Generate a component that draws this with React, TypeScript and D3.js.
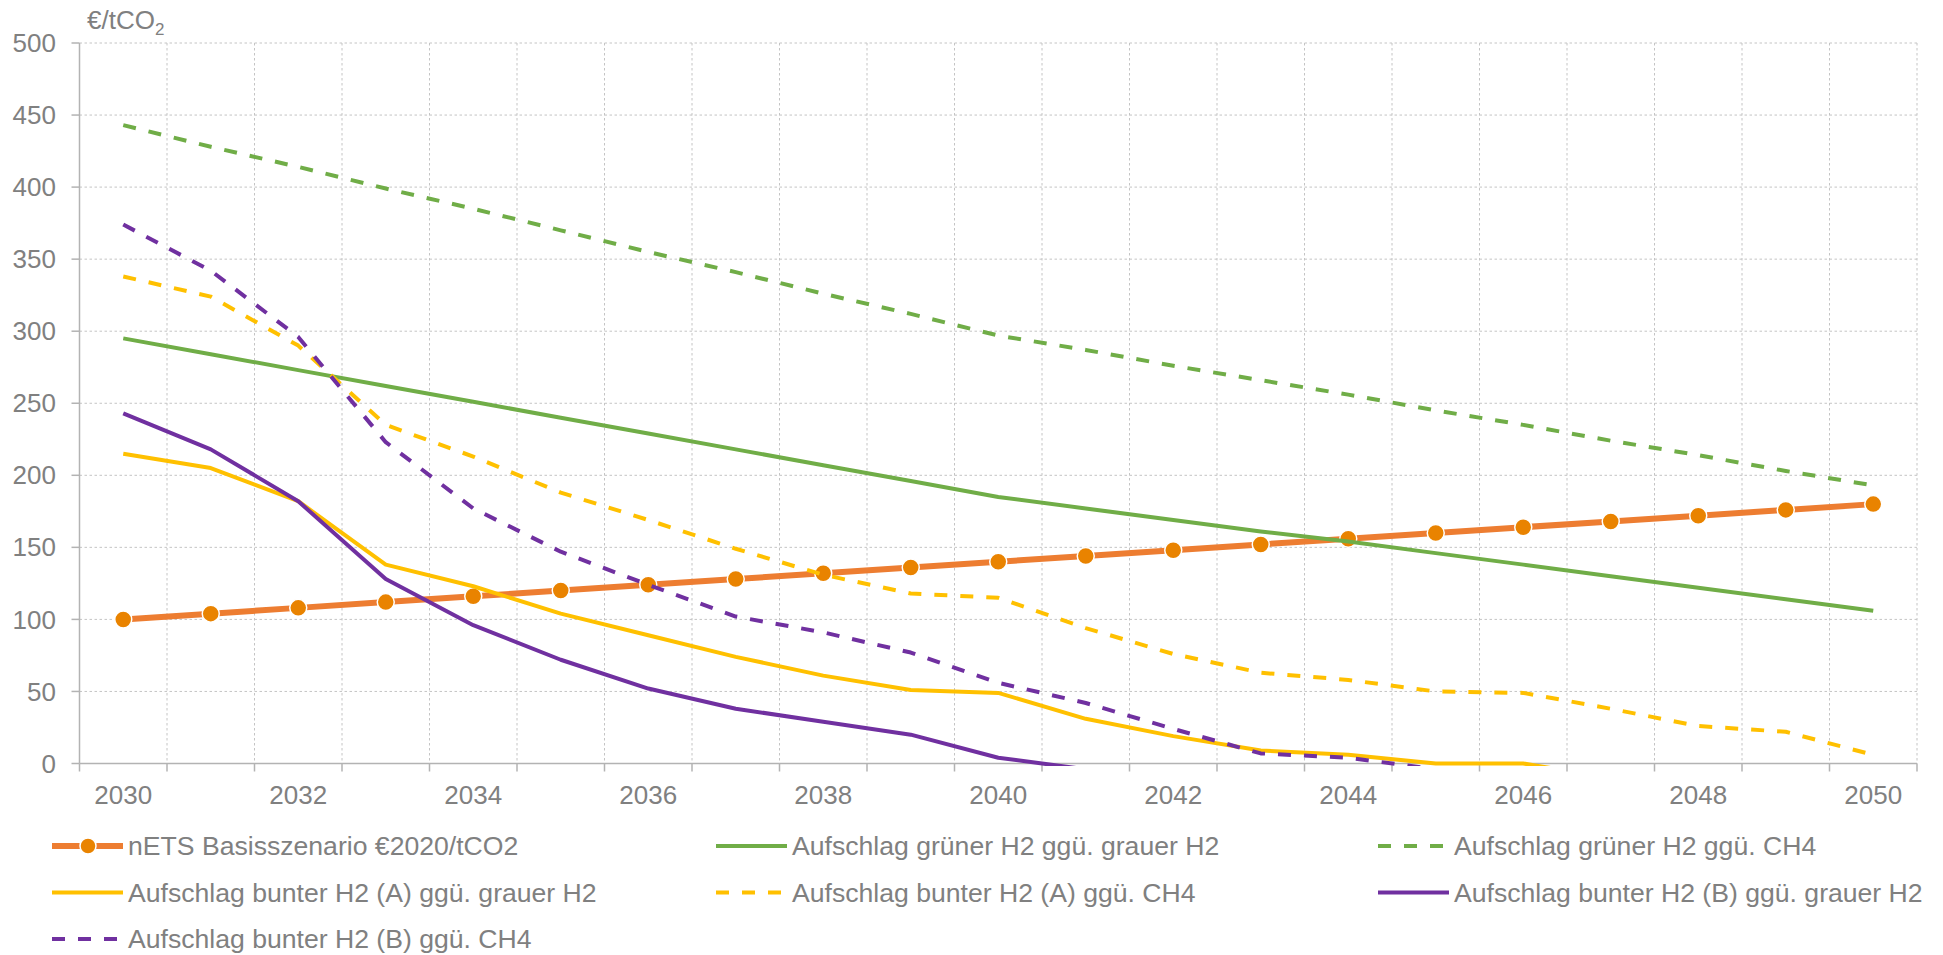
import React from "react";
import * as d3 from "d3";

const years = [2030, 2031, 2032, 2033, 2034, 2035, 2036, 2037, 2038, 2039, 2040, 2041, 2042, 2043, 2044, 2045, 2046, 2047, 2048, 2049, 2050];
const yTicks = [0, 50, 100, 150, 200, 250, 300, 350, 400, 450, 500];
const xTickLabels = [2030, 2032, 2034, 2036, 2038, 2040, 2042, 2044, 2046, 2048, 2050];

const nETS = [100, 104, 108, 112, 116, 120, 124, 128, 132, 136, 140, 144, 148, 152, 156, 160, 164, 168, 172, 176, 180];
const greenGrey = [295, 284, 273, 262, 251, 240, 229, 218, 207, 196, 185, 177, 169, 161, 154, 146, 138, 130, 122, 114, 106];
const greenCH4 = [443, 428, 414, 399, 385, 370, 355, 341, 326, 312, 297, 287, 276, 266, 256, 245, 235, 224, 214, 203, 193];
const buntAGrey = [215, 205, 182, 138, 123, 104, 89, 74, 61, 51, 49, 31, 19, 9, 6, 0, 0, -10];
const buntACH4 = [338, 324, 290, 235, 213, 188, 169, 149, 131, 118, 115, 94, 76, 63, 58, 50, 49, 38, 26, 22, 6];
const buntBGrey = [243, 218, 182, 128, 96, 72, 52, 38, 29, 20, 4, -4];
const buntBCH4 = [374, 342, 296, 223, 177, 147, 124, 102, 91, 77, 56, 42, 24, 7, 4, -4];

const seriesNames = [
  "nETS Basisszenario €2020/tCO2",
  "Aufschlag grüner H2 ggü. grauer H2",
  "Aufschlag grüner H2 ggü. CH4",
  "Aufschlag bunter H2 (A) ggü. grauer H2",
  "Aufschlag bunter H2 (A) ggü. CH4",
  "Aufschlag bunter H2 (B) ggü. grauer H2",
  "Aufschlag bunter H2 (B) ggü. CH4",
];

const W = 1943;
const H = 955;
const left = 79.5;
const right = 1917;
const top = 43;
const bottom = 763.5;
const FONT = "'Liberation Sans', Arial, sans-serif";
const TEXT = "#808080";
const GRID = "#c4c4c4";
const AXIS = "#b3b3b3";
const DASH = "13,13";

const series = [
  { name: seriesNames[0], values: nETS, color: "#ED7D31", width: 6, dash: null, marker: true },
  { name: seriesNames[1], values: greenGrey, color: "#70AD47", width: 4, dash: null, marker: false },
  { name: seriesNames[2], values: greenCH4, color: "#70AD47", width: 4, dash: DASH, marker: false },
  { name: seriesNames[3], values: buntAGrey, color: "#FFC000", width: 4, dash: null, marker: false },
  { name: seriesNames[4], values: buntACH4, color: "#FFC000", width: 4, dash: DASH, marker: false },
  { name: seriesNames[5], values: buntBGrey, color: "#7030A0", width: 4, dash: null, marker: false },
  { name: seriesNames[6], values: buntBCH4, color: "#7030A0", width: 4, dash: DASH, marker: false },
];

export default function App() {
  const x = d3.scaleBand<number>().domain(years).range([left, right]).padding(0);
  const bw = x.bandwidth();
  const cx = (yr: number) => (x(yr) as number) + bw / 2;
  const y = d3.scaleLinear().domain([0, 500]).range([bottom, top]);

  const line = d3
    .line<number>()
    .x((_, i) => cx(years[i]))
    .y((d) => y(d));

  const boundaries = d3.range(years.length + 1).map((i) => left + i * bw);

  const legendCols = [52, 716, 1378];
  const legendRows = [846, 892.5, 939];

  return (
    <svg
      width={W}
      height={H}
      style={{ position: "absolute", left: 0, top: 0, background: "#fff" }}
      fontFamily={FONT}
    >
      <defs>
        <clipPath id="plotclip">
          <rect x={left} y={top - 10} width={right - left + 10} height={bottom - top + 12.5} />
        </clipPath>
      </defs>

      {yTicks
        .filter((t) => t > 0)
        .map((t) => (
          <line key={"hg" + t} x1={left} x2={right} y1={y(t)} y2={y(t)} stroke={GRID} strokeWidth={1} strokeDasharray="2.5,2.5" />
        ))}
      {boundaries.slice(1).map((b, i) => (
        <line key={"vg" + i} x1={b} x2={b} y1={top} y2={bottom} stroke={GRID} strokeWidth={1} strokeDasharray="2.5,2.5" />
      ))}

      <line x1={left} x2={left} y1={top} y2={bottom} stroke={AXIS} strokeWidth={1.5} />
      <line x1={left} x2={right} y1={bottom} y2={bottom} stroke={AXIS} strokeWidth={1.5} />
      {yTicks.map((t) => (
        <line key={"yt" + t} x1={left - 8} x2={left} y1={y(t)} y2={y(t)} stroke={AXIS} strokeWidth={1.5} />
      ))}
      {boundaries.map((b, i) => (
        <line key={"xt" + i} x1={b} x2={b} y1={bottom} y2={bottom + 8} stroke={AXIS} strokeWidth={1.5} />
      ))}

      {yTicks.map((t) => (
        <text key={"yl" + t} x={56} y={y(t)} dy="0.35em" textAnchor="end" fontSize={26} fill={TEXT}>
          {t}
        </text>
      ))}
      {xTickLabels.map((yr) => (
        <text key={"xl" + yr} x={cx(yr)} y={804} textAnchor="middle" fontSize={26} fill={TEXT}>
          {yr}
        </text>
      ))}

      <text x={87} y={29} fontSize={26} fill={TEXT}>
        €/tCO<tspan fontSize={17} dy={6}>2</tspan>
      </text>

      <g clipPath="url(#plotclip)">
        {series.map((s, si) => (
          <g key={"s" + si}>
            <path
              d={line(s.values) || ""}
              fill="none"
              stroke={s.color}
              strokeWidth={s.width}
              strokeDasharray={s.dash || undefined}
              strokeLinejoin="round"
            />
            {s.marker &&
              s.values.map((v, i) => (
                <circle key={i} cx={cx(years[i])} cy={y(v)} r={8.5} fill="#E98300" stroke="#fff" strokeWidth={1.5} />
              ))}
          </g>
        ))}
      </g>

      {series.map((s, i) => {
        const col = i % 3;
        const row = Math.floor(i / 3);
        const lx = legendCols[col];
        const ly = legendRows[row];
        return (
          <g key={"lg" + i}>
            <line
              x1={lx}
              x2={lx + 71}
              y1={ly}
              y2={ly}
              stroke={s.color}
              strokeWidth={s.width}
              strokeDasharray={s.dash || undefined}
            />
            {s.marker && <circle cx={lx + 36} cy={ly} r={8} fill="#E98300" stroke="#fff" strokeWidth={1.5} />}
            <text x={lx + 76} y={ly} dy="0.35em" fontSize={26.6} fill={TEXT}>
              {s.name}
            </text>
          </g>
        );
      })}
    </svg>
  );
}
